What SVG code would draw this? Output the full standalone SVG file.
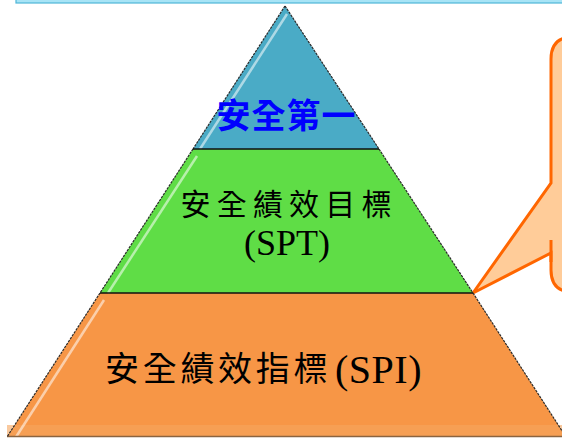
<svg xmlns="http://www.w3.org/2000/svg" width="562" height="438" viewBox="0 0 562 438">
<style>
.edge{fill:none;stroke:#2b2b2b;stroke-width:1.2;stroke-dasharray:2.5 1}
.sep{stroke:#111;stroke-width:1.5}
.hl{stroke:#ffffff;stroke-opacity:0.55;stroke-width:2.5;fill:none}
.cjk{font-family:"Noto Sans CJK TC","Noto Sans CJK SC",sans-serif}
.lat{font-family:"Liberation Serif","Noto Sans CJK TC",serif}
</style>
<rect width="562" height="438" fill="#ffffff"/>
<g id="topbar">
<rect x="16" y="-6" width="560" height="9" fill="#a8e4f6" stroke="#4fb6d8" stroke-width="1.2"/>
</g>
<g id="callout">
<path d="M473,293 L551,183 V59 Q551,37 573,37 H600 V292 H573 Q551,292 551,270 V253 Z" fill="#ffcc99" stroke="#ff6600" stroke-width="3" stroke-linejoin="miter"/>
<line x1="551" y1="240" x2="551" y2="262" stroke="#ff6600" stroke-width="3"/>
</g>
<g id="tier-bottom">
<polygon points="100,293 473,293 566,437 7,437" fill="#f79646"/>
<rect x="7" y="425" width="558" height="12" fill="#f5a55e" opacity="0.6"/>
<line x1="104" y1="300" x2="16" y2="437" class="hl"/>
<line x1="7" y1="436.5" x2="566" y2="436.5" stroke="#8a6440" stroke-width="1.5"/>
<path d="M100,293 L7,437 M473,293 L566,437" class="edge"/>
<text class="cjk" x="105" y="381" font-size="34" letter-spacing="3.7" fill="#000">安全績效指標<tspan class="lat" x="335" y="383" font-size="40" letter-spacing="0.5">(SPI)</tspan></text>
</g>
<g id="tier-middle">
<polygon points="193,149 379,149 473,293 100,293" fill="#5fdd46"/>
<line x1="197" y1="156" x2="108" y2="293" class="hl"/>
<path d="M193,149 L100,293 M379,149 L473,293" class="edge"/>
<line x1="100" y1="293" x2="473" y2="293" class="sep"/>
<text class="cjk" x="180.5" y="215" font-size="30" letter-spacing="6.2" fill="#000">安全績效目標</text>
<text class="lat" x="287" y="255" font-size="36" text-anchor="middle" fill="#000">(SPT)</text>
</g>
<g id="tier-top">
<polygon points="285,6 193,149 379,149" fill="#4aabc6"/>
<line x1="287" y1="14" x2="200" y2="149" class="hl"/>
<path d="M285,6 L193,149 M285,6 L379,149" class="edge"/>
<line x1="193" y1="149" x2="379" y2="149" class="sep"/>
<text class="cjk" x="216.5" y="128" font-size="34" font-weight="bold" letter-spacing="1" fill="#0000ff">安全第一</text>
</g>
</svg>
